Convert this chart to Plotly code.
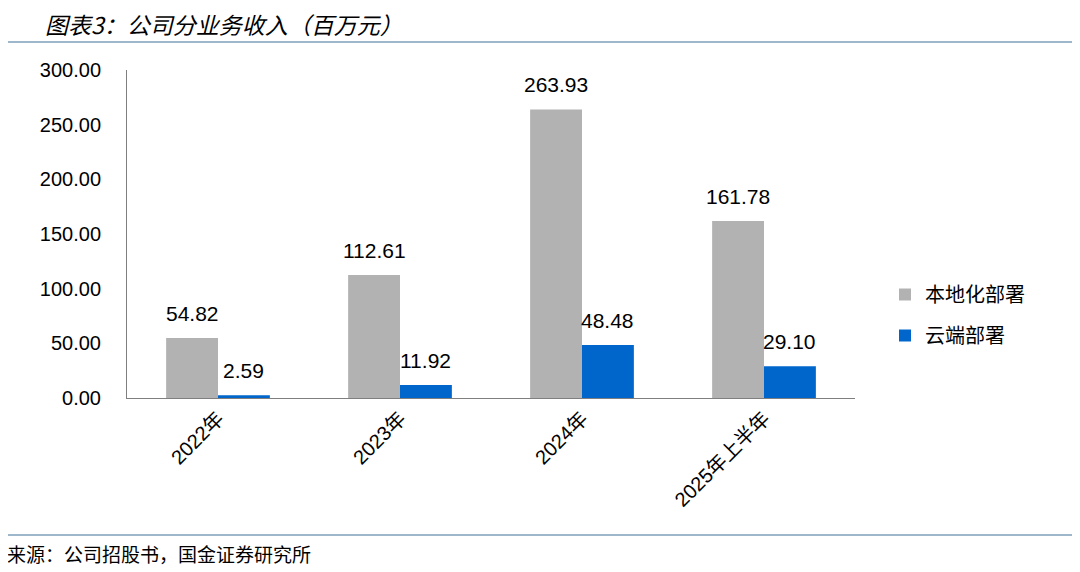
import plotly.graph_objects as go

categories = ["2022年", "2023年", "2024年", "2025年上半年"]
local_deploy = [54.82, 112.61, 263.93, 161.78]
cloud_deploy = [2.59, 11.92, 48.48, 29.10]
y_ticks = [0, 50, 100, 150, 200, 250, 300]

# page has an 8px body margin, so layout coords = screen - 8
W, H = 1072, 564
L, R, T, B = 119, 225, 62, 174
PW, PH = W - L - R, H - T - B
BARGAP = 0.43

def px_x(sx):
    return (sx - 8 - L) / PW

def px_y(sy):
    return 1 - (sy - 8 - T) / PH

fig = go.Figure()
fig.add_trace(go.Bar(
    x=categories, y=local_deploy, name="本地化部署", legendgroup="a",
    marker=dict(color="#B2B2B2", line=dict(width=0)),
))
fig.add_trace(go.Bar(
    x=categories, y=cloud_deploy, name="云端部署", legendgroup="b",
    marker=dict(color="#0066CC", line=dict(width=0)),
))

# value labels above each bar
bar_px = PW / len(categories) * (1 - BARGAP) / 2
for vals, sign in ((local_deploy, -1), (cloud_deploy, 1)):
    for c, v in zip(categories, vals):
        fig.add_annotation(
            x=c, y=v, xref="x", yref="y", text=f"{v:.2f}", showarrow=False,
            xshift=sign * bar_px / 2, yshift=11, yanchor="bottom", xanchor="center",
            font=dict(size=21, color="#000000", family="Liberation Sans, Arial"),
        )

fig.update_layout(
    width=W, height=H,
    margin=dict(l=L, r=R, t=T, b=B, pad=0),
    paper_bgcolor="white", plot_bgcolor="white",
    barmode="group", bargap=BARGAP, bargroupgap=0,
    font=dict(family="Liberation Sans, Arial, Noto Sans CJK SC", color="#000000"),
    showlegend=True,
    legend=dict(
        x=px_x(885), y=px_y(315), xanchor="left", yanchor="middle",
        font=dict(size=20, family="Noto Sans CJK SC, Liberation Sans"),
        itemsizing="constant", tracegroupgap=12, bgcolor="rgba(0,0,0,0)",
        itemwidth=30,
    ),
)
fig.update_yaxes(
    range=[0, 300], tickvals=y_ticks, tickformat=".2f",
    showgrid=False, zeroline=False, showline=True, linecolor="#7F7F7F", linewidth=1,
    ticks="", ticklen=0, tickfont=dict(size=20, family="Liberation Sans, Arial"),
    ticklabelstandoff=21,
)
fig.update_xaxes(
    showgrid=False, showline=True, linecolor="#7F7F7F", linewidth=1,
    ticks="", tickangle=-45,
    tickfont=dict(size=20, family="Liberation Sans, Noto Sans CJK SC"),
)

# Title and header/footer rules
fig.add_annotation(
    xref="paper", yref="paper", x=px_x(43), y=px_y(24),
    xanchor="left", yanchor="middle", showarrow=False,
    text="<i>图表3：公司分业务收入（百万元）</i>",
    font=dict(size=23, family="Noto Sans CJK SC", color="#000000"),
)
for sy in (42, 535):
    fig.add_shape(type="line", xref="paper", yref="paper",
                  x0=px_x(0), x1=px_x(1080), y0=px_y(sy), y1=px_y(sy),
                  line=dict(color="#7F9FB8", width=1.5))
fig.add_annotation(
    xref="paper", yref="paper", x=px_x(5), y=px_y(553),
    xanchor="left", yanchor="middle", showarrow=False,
    text="来源：公司招股书，国金证券研究所",
    font=dict(size=19, family="Noto Sans CJK SC", color="#000000"),
)

fig.write_html("out.html")
